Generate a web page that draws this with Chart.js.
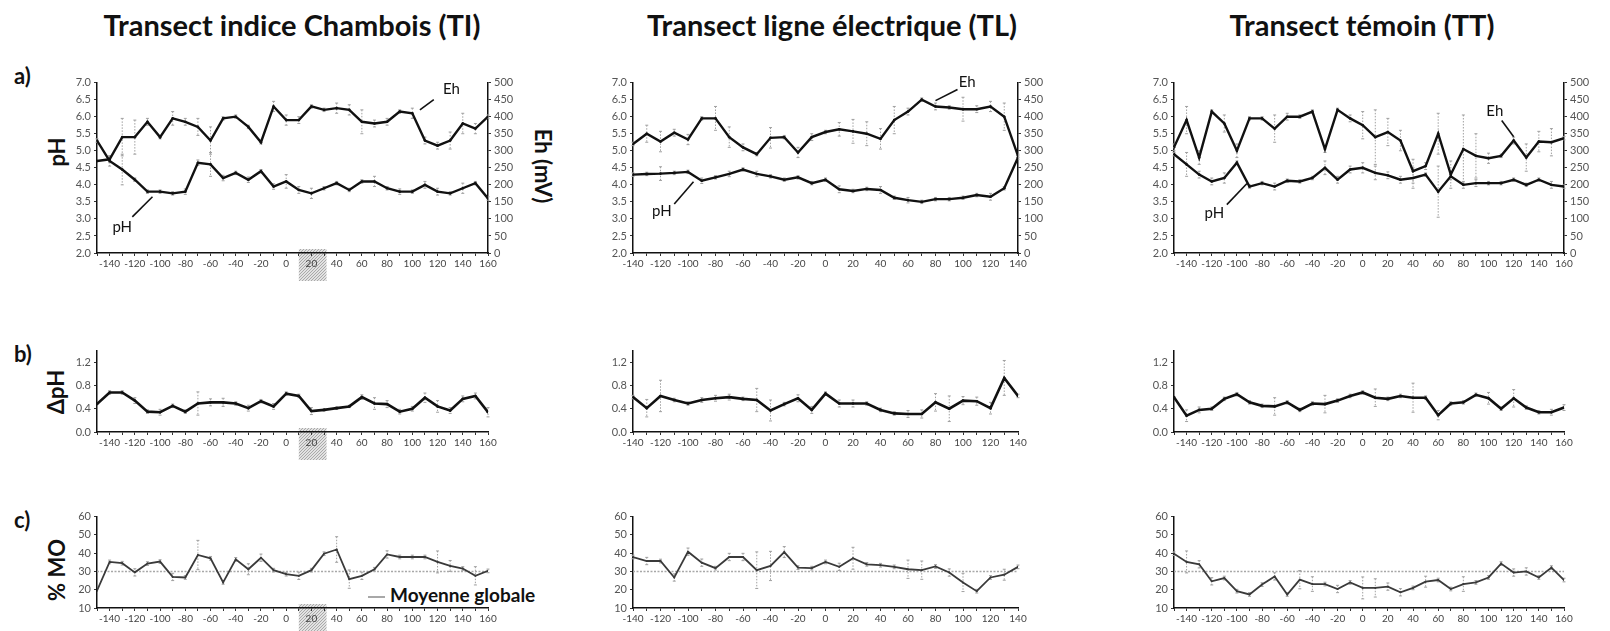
<!DOCTYPE html>
<html lang="fr">
<head>
<meta charset="utf-8">
<title>Transects pH / Eh / MO</title>
<script src="https://cdn.jsdelivr.net/npm/chart.js@4.4.1/dist/chart.umd.min.js"></script>
<style>
  html, body { margin: 0; padding: 0; background: #fff; }
  #page { position: relative; width: 1610px; height: 631px; overflow: hidden; font-family: Lato, 'Open Sans', sans-serif; color: #111; }
  #page canvas { position: absolute; }
  .titre { position: absolute; top: 10px; font-weight: bold; font-size: 29px; line-height: 30px; white-space: nowrap; transform: translateX(-50%); }
  .lettre { position: absolute; left: 14px; font-weight: bold; font-size: 22px; line-height: 22px; transform: translateY(-50%); }
  .axe { position: absolute; font-weight: bold; font-size: 22px; line-height: 22px; white-space: nowrap; transform: translate(-50%, -50%) rotate(-90deg); }
  .axe.droite { transform: translate(-50%, -50%) rotate(90deg); }
  #legende { position: absolute; left: 368px; top: 584px; font-weight: bold; font-size: 19px; line-height: 22px; white-space: nowrap; }
  #legende span { display: inline-block; width: 17px; height: 0; border-top: 2px solid #a8a8a8; vertical-align: middle; margin-right: 5px; }
</style>
</head>
<body>
<div id="page">
  <div class="titre" style="left:292px">Transect indice Chambois (TI)</div>
  <div class="titre" style="left:832px">Transect ligne électrique (TL)</div>
  <div class="titre" style="left:1362px">Transect témoin (TT)</div>

  <div class="lettre" style="top:76px">a)</div>
  <div class="lettre" style="top:354px">b)</div>
  <div class="lettre" style="top:520px">c)</div>

  <div class="axe" style="left:57px;top:152px">pH</div>
  <div class="axe droite" style="left:543px;top:166px">Eh (mV)</div>
  <div class="axe" style="left:56px;top:392px">ΔpH</div>
  <div class="axe" style="left:57px;top:570px">% MO</div>

  <div id="legende"><span></span>Moyenne globale</div>
</div>

<script>
// Distances le long des transects (m)
const distTI = [-150, -140, -130, -120, -110, -100, -90, -80, -70, -60, -50, -40, -30, -20, -10, 0,
                10, 20, 30, 40, 50, 60, 70, 80, 90, 100, 110, 120, 130, 140, 150, 160];
const distTL = [-140, -130, -120, -110, -100, -90, -80, -70, -60, -50, -40, -30, -20, -10, 0,
                10, 20, 30, 40, 50, 60, 70, 80, 90, 100, 110, 120, 130, 140];
const distTT = [-150, -140, -130, -120, -110, -100, -90, -80, -70, -60, -50, -40, -30, -20, -10, 0,
                10, 20, 30, 40, 50, 60, 70, 80, 90, 100, 110, 120, 130, 140, 150, 160];

// Etiquettes des axes
const xEtiqTI = [-140, -120, -100, -80, -60, -40, -20, 0, 20, 40, 60, 80, 100, 120, 140, 160];
const xEtiqTL = [-140, -120, -100, -80, -60, -40, -20, 0, 20, 40, 60, 80, 100, 120, 140];
const etiqDeltaPH = [0.0, 0.4, 0.8, 1.2];

// a) pH et Eh (mV)
const phTI = [5.3, 4.7, 4.45, 4.15, 3.8, 3.8, 3.75, 3.8, 4.65, 4.6, 4.2, 4.35, 4.15, 4.4, 3.95, 4.1,
              3.85, 3.75, 3.9, 4.05, 3.85, 4.1, 4.1, 3.9, 3.8, 3.8, 4.0, 3.8, 3.75, 3.9, 4.05, 3.6];
const errPhTI = [0.05, 0.15, 0.45, 0.05, 0.05, 0.05, 0.05, 0.08, 0.08, 0.35, 0.08, 0.05, 0.08, 0.05, 0.08, 0.2,
                 0.1, 0.15, 0.05, 0.05, 0.05, 0.05, 0.15, 0.05, 0.08, 0.05, 0.1, 0.1, 0.05, 0.15, 0.05, 0.05];
const ehTI = [270, 275, 340, 340, 385, 340, 395, 385, 370, 330, 395, 400, 370, 325, 430, 390,
              390, 430, 420, 425, 420, 385, 380, 385, 415, 410, 330, 315, 330, 380, 365, 400];
const errEhTI = [0, 10, 55, 50, 10, 5, 20, 10, 25, 40, 5, 5, 5, 5, 15, 15,
                 10, 5, 5, 15, 15, 35, 10, 10, 5, 15, 10, 10, 25, 30, 15, 5];

const phTL = [4.3, 4.32, 4.33, 4.35, 4.38, 4.12, 4.22, 4.32, 4.45, 4.32, 4.25, 4.15, 4.22, 4.05, 4.15,
              3.87, 3.82, 3.88, 3.85, 3.62, 3.55, 3.5, 3.58, 3.58, 3.62, 3.7, 3.65, 3.9, 4.8];
const errPhTL = [0.05, 0.05, 0.2, 0.05, 0.05, 0.08, 0.05, 0.08, 0.05, 0.08, 0.05, 0.05, 0.05, 0.05, 0.05,
                 0.1, 0.05, 0.05, 0.1, 0.05, 0.08, 0.05, 0.05, 0.05, 0.05, 0.05, 0.1, 0.05, 0.05];
const ehTL = [320, 350, 327, 353, 333, 395, 395, 340, 310, 290, 338, 340, 295, 340, 355,
              363, 357, 350, 335, 390, 415, 450, 430, 427, 422, 422, 430, 400, 285];
const errEhTL = [5, 25, 30, 10, 15, 5, 35, 30, 10, 5, 30, 5, 15, 10, 5,
                 20, 35, 35, 30, 40, 10, 5, 10, 5, 35, 10, 15, 40, 5];

const phTT = [4.9, 4.6, 4.3, 4.1, 4.2, 4.65, 3.95, 4.05, 3.95, 4.12, 4.1, 4.2, 4.5, 4.15, 4.45, 4.5,
              4.35, 4.28, 4.15, 4.2, 4.3, 3.8, 4.25, 4.0, 4.05, 4.05, 4.05, 4.15, 4.0, 4.15, 4.0, 3.95];
const errPhTT = [0.05, 0.35, 0.1, 0.1, 0.15, 0.05, 0.05, 0.05, 0.1, 0.05, 0.05, 0.05, 0.2, 0.1, 0.1, 0.15,
                 0.2, 0.1, 0.1, 0.3, 0.05, 0.75, 0.1, 0.1, 0.1, 0.05, 0.05, 0.05, 0.05, 0.05, 0.1, 0.05];
const ehTT = [310, 390, 280, 415, 380, 300, 395, 395, 365, 400, 400, 415, 305, 420, 395, 375,
              340, 355, 330, 240, 255, 350, 230, 305, 285, 278, 285, 330, 280, 327, 325, 337];
const errEhTT = [10, 40, 20, 5, 25, 20, 5, 5, 40, 10, 5, 5, 10, 5, 10, 40,
                 80, 40, 30, 35, 10, 60, 40, 100, 65, 15, 5, 10, 40, 30, 40, 5];

// b) Delta pH
const dphTI = [0.48, 0.68, 0.68, 0.54, 0.35, 0.34, 0.45, 0.35, 0.49, 0.51, 0.51, 0.49, 0.41, 0.53, 0.44, 0.66,
               0.62, 0.36, 0.38, 0.41, 0.44, 0.6, 0.49, 0.48, 0.35, 0.4, 0.59, 0.44, 0.37, 0.57, 0.62, 0.34];
const errDphTI = [0, 0.03, 0.03, 0.05, 0.03, 0.05, 0.03, 0.03, 0.2, 0.06, 0.07, 0.03, 0.05, 0.03, 0.05, 0.03,
                  0.03, 0.06, 0.02, 0.02, 0.02, 0.04, 0.1, 0.06, 0.04, 0.04, 0.08, 0.1, 0.05, 0.05, 0.05, 0.08];
const dphTL = [0.6, 0.41, 0.62, 0.55, 0.49, 0.55, 0.58, 0.6, 0.57, 0.55, 0.37, 0.48, 0.58, 0.38, 0.66,
               0.49, 0.49, 0.49, 0.38, 0.32, 0.31, 0.31, 0.51, 0.4, 0.54, 0.53, 0.41, 0.93, 0.62];
const errDphTL = [0.03, 0.15, 0.27, 0.03, 0.03, 0.04, 0.05, 0.05, 0.03, 0.2, 0.18, 0.03, 0.06, 0.06, 0.03,
                  0.06, 0.06, 0.03, 0.03, 0.03, 0.06, 0.07, 0.15, 0.22, 0.07, 0.07, 0.1, 0.3, 0.03];
const dphTT = [0.6, 0.28, 0.38, 0.4, 0.57, 0.65, 0.51, 0.45, 0.44, 0.51, 0.38, 0.49, 0.48, 0.54, 0.62, 0.68,
               0.59, 0.57, 0.62, 0.59, 0.59, 0.29, 0.49, 0.51, 0.64, 0.58, 0.4, 0.58, 0.42, 0.34, 0.34, 0.42];
const errDphTT = [0, 0.1, 0.05, 0.03, 0.03, 0.03, 0.03, 0.03, 0.15, 0.03, 0.03, 0.03, 0.15, 0.03, 0.03, 0.03,
                  0.15, 0.03, 0.03, 0.25, 0.03, 0.08, 0.03, 0.03, 0.03, 0.1, 0.03, 0.15, 0.03, 0.03, 0.05, 0.05];

// c) % matière organique
const moTI = [19.5, 35.2, 34.5, 29.5, 34.3, 35.4, 27, 26.7, 39, 37.2, 24, 36.6, 31.2, 37.5, 30.7, 28.5,
              27.6, 30.7, 39.7, 42, 25.8, 27.6, 31.2, 39.3, 37.9, 37.9, 37.9, 35.2, 33, 31.6, 27.6, 30.3];
const errMoTI = [0, 1, 1, 2, 1, 1, 2, 1, 8, 1, 1, 1, 3, 2, 1, 1,
                 2, 1, 1, 7, 5, 2, 1, 2, 1, 1, 1, 6, 3, 1, 5, 1];
const moTL = [37.9, 35.7, 35.7, 26.7, 40.8, 34.8, 31.8, 37.9, 37.9, 30.7, 33, 40.6, 32.1, 31.8, 35.2,
              32.5, 37.2, 33.9, 33.4, 32.5, 31.2, 30.7, 32.7, 29.4, 24, 19.2, 26.7, 28.2, 32.5];
const errMoTL = [1, 2, 1, 2, 2, 2, 1, 2, 2, 10, 8, 3, 1, 1, 1,
                 2, 6, 1, 1, 1, 5, 5, 1, 2, 5, 1, 1, 3, 1];
const moTT = [39.7, 35.2, 33.9, 24.6, 26.4, 19.2, 17.4, 22.8, 27.3, 17.4, 25.5, 23.1, 23.1, 20.4, 24, 21,
              21, 21.7, 18.6, 21, 24.4, 25.3, 20.4, 23.1, 24, 26.7, 34.3, 29.4, 30, 26.7, 32.1, 25.3];
const errMoTT = [1, 6, 2, 2, 1, 1, 1, 1, 2, 1, 5, 4, 1, 2, 1, 6,
                 5, 2, 2, 1, 3, 1, 1, 4, 1, 1, 1, 2, 2, 1, 1, 1];
const moyenneGlobale = 30;

// zone grisée autour de 20 m sur le transect TI
const zoneTI = [10, 32];

// Position des zones de tracé sur la page
const COLONNES = [[97, 488], [633, 1018], [1174, 1564]];
const LIGNES = { a: [81, 253], b: [349, 432], c: [515, 608] };
const GAUCHE = 44, HAUT = 8, BAS = 30, DROITE_A = 46, DROITE_BC = 14;

const page = document.getElementById('page');
const policeTicks = { family: 'Lato', size: 11 };

// barres d'erreur en pointillés gris
const barresErreur = {
    id: 'barresErreur',
    beforeDatasetsDraw(chart) {
        const ctx = chart.ctx;
        ctx.save();
        ctx.strokeStyle = '#a0a0a0';
        ctx.lineWidth = 1;
        chart.data.datasets.forEach(ds => {
            if (!ds.err) return;
            const sx = chart.scales.x, sy = chart.scales[ds.yAxisID || 'y'];
            ds.data.forEach((p, j) => {
                const e = ds.err[j];
                if (!e) return;
                const x = sx.getPixelForValue(p.x);
                const y1 = sy.getPixelForValue(p.y + e), y2 = sy.getPixelForValue(p.y - e);
                ctx.setLineDash([1.5, 1.5]);
                ctx.beginPath(); ctx.moveTo(x, y1); ctx.lineTo(x, y2); ctx.stroke();
                ctx.setLineDash([]);
                ctx.beginPath();
                ctx.moveTo(x - 1.5, y1); ctx.lineTo(x + 1.5, y1);
                ctx.moveTo(x - 1.5, y2); ctx.lineTo(x + 1.5, y2);
                ctx.stroke();
            });
        });
        ctx.restore();
    }
};
Chart.register(barresErreur);

// textes "Eh" / "pH" avec leur trait
function pluginNotes(notes) {
    return {
        id: 'notes',
        afterDatasetsDraw(chart) {
            const { ctx, scales: { x, y } } = chart;
            ctx.save();
            ctx.strokeStyle = '#111';
            ctx.fillStyle = '#111';
            ctx.lineWidth = 1.6;
            ctx.font = '15px Lato';
            ctx.textAlign = 'center';
            ctx.textBaseline = 'middle';
            notes.forEach(n => {
                ctx.beginPath();
                ctx.moveTo(x.getPixelForValue(n.de[0]), y.getPixelForValue(n.de[1]));
                ctx.lineTo(x.getPixelForValue(n.a[0]), y.getPixelForValue(n.a[1]));
                ctx.stroke();
                ctx.fillText(n.texte, x.getPixelForValue(n.pos[0]), y.getPixelForValue(n.pos[1]));
            });
            ctx.restore();
        }
    };
}

// trame pointillée du rectangle gris
function trame(ctx) {
    const c = document.createElement('canvas');
    c.width = 3; c.height = 3;
    const g = c.getContext('2d');
    g.fillStyle = '#e2e2e2';
    g.fillRect(0, 0, 3, 3);
    g.fillStyle = '#a9a9a9';
    g.fillRect(0, 0, 1, 1);
    g.fillRect(1, 2, 1, 1);
    g.fillRect(2, 1, 1, 1);
    return ctx.createPattern(c, 'repeat');
}

// rectangle gris sous l'axe des x
function pluginZone(zone) {
    return {
        id: 'zone',
        beforeDraw(chart) {
            const { ctx, chartArea, scales: { x } } = chart;
            const x1 = x.getPixelForValue(zone[0]), x2 = x.getPixelForValue(zone[1]);
            ctx.save();
            ctx.fillStyle = trame(ctx);
            ctx.fillRect(x1, chartArea.bottom - 4, x2 - x1, 32);
            ctx.restore();
        }
    };
}

function creerCanvas(col, ligne) {
    const [L, R] = COLONNES[col], [T, B] = LIGNES[ligne];
    const droite = ligne === 'a' ? DROITE_A : DROITE_BC;
    const w = R - L + GAUCHE + droite, h = B - T + HAUT + BAS;
    const c = document.createElement('canvas');
    c.width = w; c.height = h;
    c.style.left = (L - GAUCHE) + 'px';
    c.style.top = (T - HAUT) + 'px';
    c.style.width = w + 'px';
    c.style.height = h + 'px';
    page.appendChild(c);
    return c;
}

function axeX(dist, etiquettes) {
    return {
        type: 'linear',
        min: dist[0],
        max: dist[dist.length - 1],
        afterFit: s => { s.height = BAS; },
        ticks: {
            stepSize: 10, autoSkip: false, maxRotation: 0, minRotation: 0, padding: 2,
            color: '#444', font: { family: 'Lato', size: 10 },
            callback: v => etiquettes.includes(v) ? String(v) : ''
        },
        grid: { drawOnChartArea: false, tickLength: 3, color: '#333' },
        border: { color: '#111', width: 1.5 }
    };
}

function axeY(min, max, pas, format, position) {
    return {
        type: 'linear',
        position: position || 'left',
        min: min, max: max,
        afterFit: s => { s.width = position === 'right' ? DROITE_A : GAUCHE; },
        ticks: { stepSize: pas, padding: 3, color: '#555', font: policeTicks, callback: format },
        grid: { drawOnChartArea: false, tickLength: 3, color: '#333' },
        border: { color: '#111', width: 1.5 }
    };
}

function serie(dist, valeurs, erreurs, opts) {
    return Object.assign({
        data: dist.map((d, i) => ({ x: d, y: valeurs[i] })),
        err: erreurs,
        borderColor: '#111',
        borderWidth: 2.4,
        pointRadius: 1.3,
        pointBackgroundColor: '#111',
        pointBorderWidth: 0,
        tension: 0,
        fill: false
    }, opts || {});
}

function options(scales, ligne) {
    return {
        responsive: false,
        animation: false,
        events: [],
        layout: { padding: { top: HAUT, left: 0, bottom: 0, right: ligne === 'a' ? 0 : DROITE_BC } },
        plugins: { legend: { display: false }, tooltip: { enabled: false } },
        scales: scales
    };
}

const fmt1 = v => Number(v).toFixed(1);
const fmt0 = v => String(v);
const fmtDelta = v => etiqDeltaPH.includes(Math.round(v * 10) / 10) ? Number(v).toFixed(1) : '';

const transects = [
    { dist: distTI, etiq: xEtiqTI, ph: phTI, ePh: errPhTI, eh: ehTI, eEh: errEhTI,
      dph: dphTI, eDph: errDphTI, mo: moTI, eMo: errMoTI, zone: zoneTI,
      notes: [
          { texte: 'Eh', pos: [131, 6.82], de: [117, 6.5], a: [106, 6.2] },
          { texte: 'pH', pos: [-130, 2.77], de: [-122, 3.06], a: [-106, 3.65] }
      ] },
    { dist: distTL, etiq: xEtiqTL, ph: phTL, ePh: errPhTL, eh: ehTL, eEh: errEhTL,
      dph: dphTL, eDph: errDphTL, mo: moTL, eMo: errMoTL, zone: null,
      notes: [
          { texte: 'Eh', pos: [103, 7.0], de: [96, 6.8], a: [80, 6.47] },
          { texte: 'pH', pos: [-119, 3.22], de: [-110, 3.44], a: [-96, 4.09] }
      ] },
    { dist: distTT, etiq: xEtiqTI, ph: phTT, ePh: errPhTT, eh: ehTT, eEh: errEhTT,
      dph: dphTT, eDph: errDphTT, mo: moTT, eMo: errMoTT, zone: null,
      notes: [
          { texte: 'Eh', pos: [105, 6.16], de: [110.5, 5.89], a: [120, 5.41] },
          { texte: 'pH', pos: [-118, 3.18], de: [-108, 3.42], a: [-92, 4.04] }
      ] }
];

transects.forEach((t, col) => {
    const zone = t.zone ? [pluginZone(t.zone)] : [];

    // a) pH et Eh
    new Chart(creerCanvas(col, 'a'), {
        type: 'line',
        data: {
            datasets: [
                serie(t.dist, t.eh, t.eEh, { yAxisID: 'eh' }),
                serie(t.dist, t.ph, t.ePh, { yAxisID: 'y' })
            ]
        },
        options: options({
            x: axeX(t.dist, t.etiq),
            y: axeY(2, 7, 0.5, fmt1),
            eh: axeY(0, 500, 50, fmt0, 'right')
        }, 'a'),
        plugins: zone.concat([pluginNotes(t.notes)])
    });

    // b) Delta pH
    new Chart(creerCanvas(col, 'b'), {
        type: 'line',
        data: { datasets: [serie(t.dist, t.dph, t.eDph, { yAxisID: 'y', borderWidth: 2.6 })] },
        options: options({
            x: axeX(t.dist, t.etiq),
            y: axeY(0, 1.4, 0.2, fmtDelta)
        }, 'b'),
        plugins: zone
    });

    // c) % MO avec la moyenne globale
    const dernier = t.dist.length - 1;
    new Chart(creerCanvas(col, 'c'), {
        type: 'line',
        data: {
            datasets: [
                serie(t.dist, t.mo, t.eMo, { yAxisID: 'y', borderColor: '#3a3a3a', borderWidth: 1.8,
                    pointRadius: 1, pointBackgroundColor: '#3a3a3a', order: 1 }),
                { data: [{ x: t.dist[0], y: moyenneGlobale }, { x: t.dist[dernier], y: moyenneGlobale }],
                  borderColor: '#a8a8a8', borderWidth: 1.6, borderDash: [2, 1.5], pointRadius: 0,
                  yAxisID: 'y', order: 2 }
            ]
        },
        options: options({
            x: axeX(t.dist, t.etiq),
            y: axeY(10, 60, 10, fmt0)
        }, 'c'),
        plugins: zone
    });
});
</script>
</body>
</html>
